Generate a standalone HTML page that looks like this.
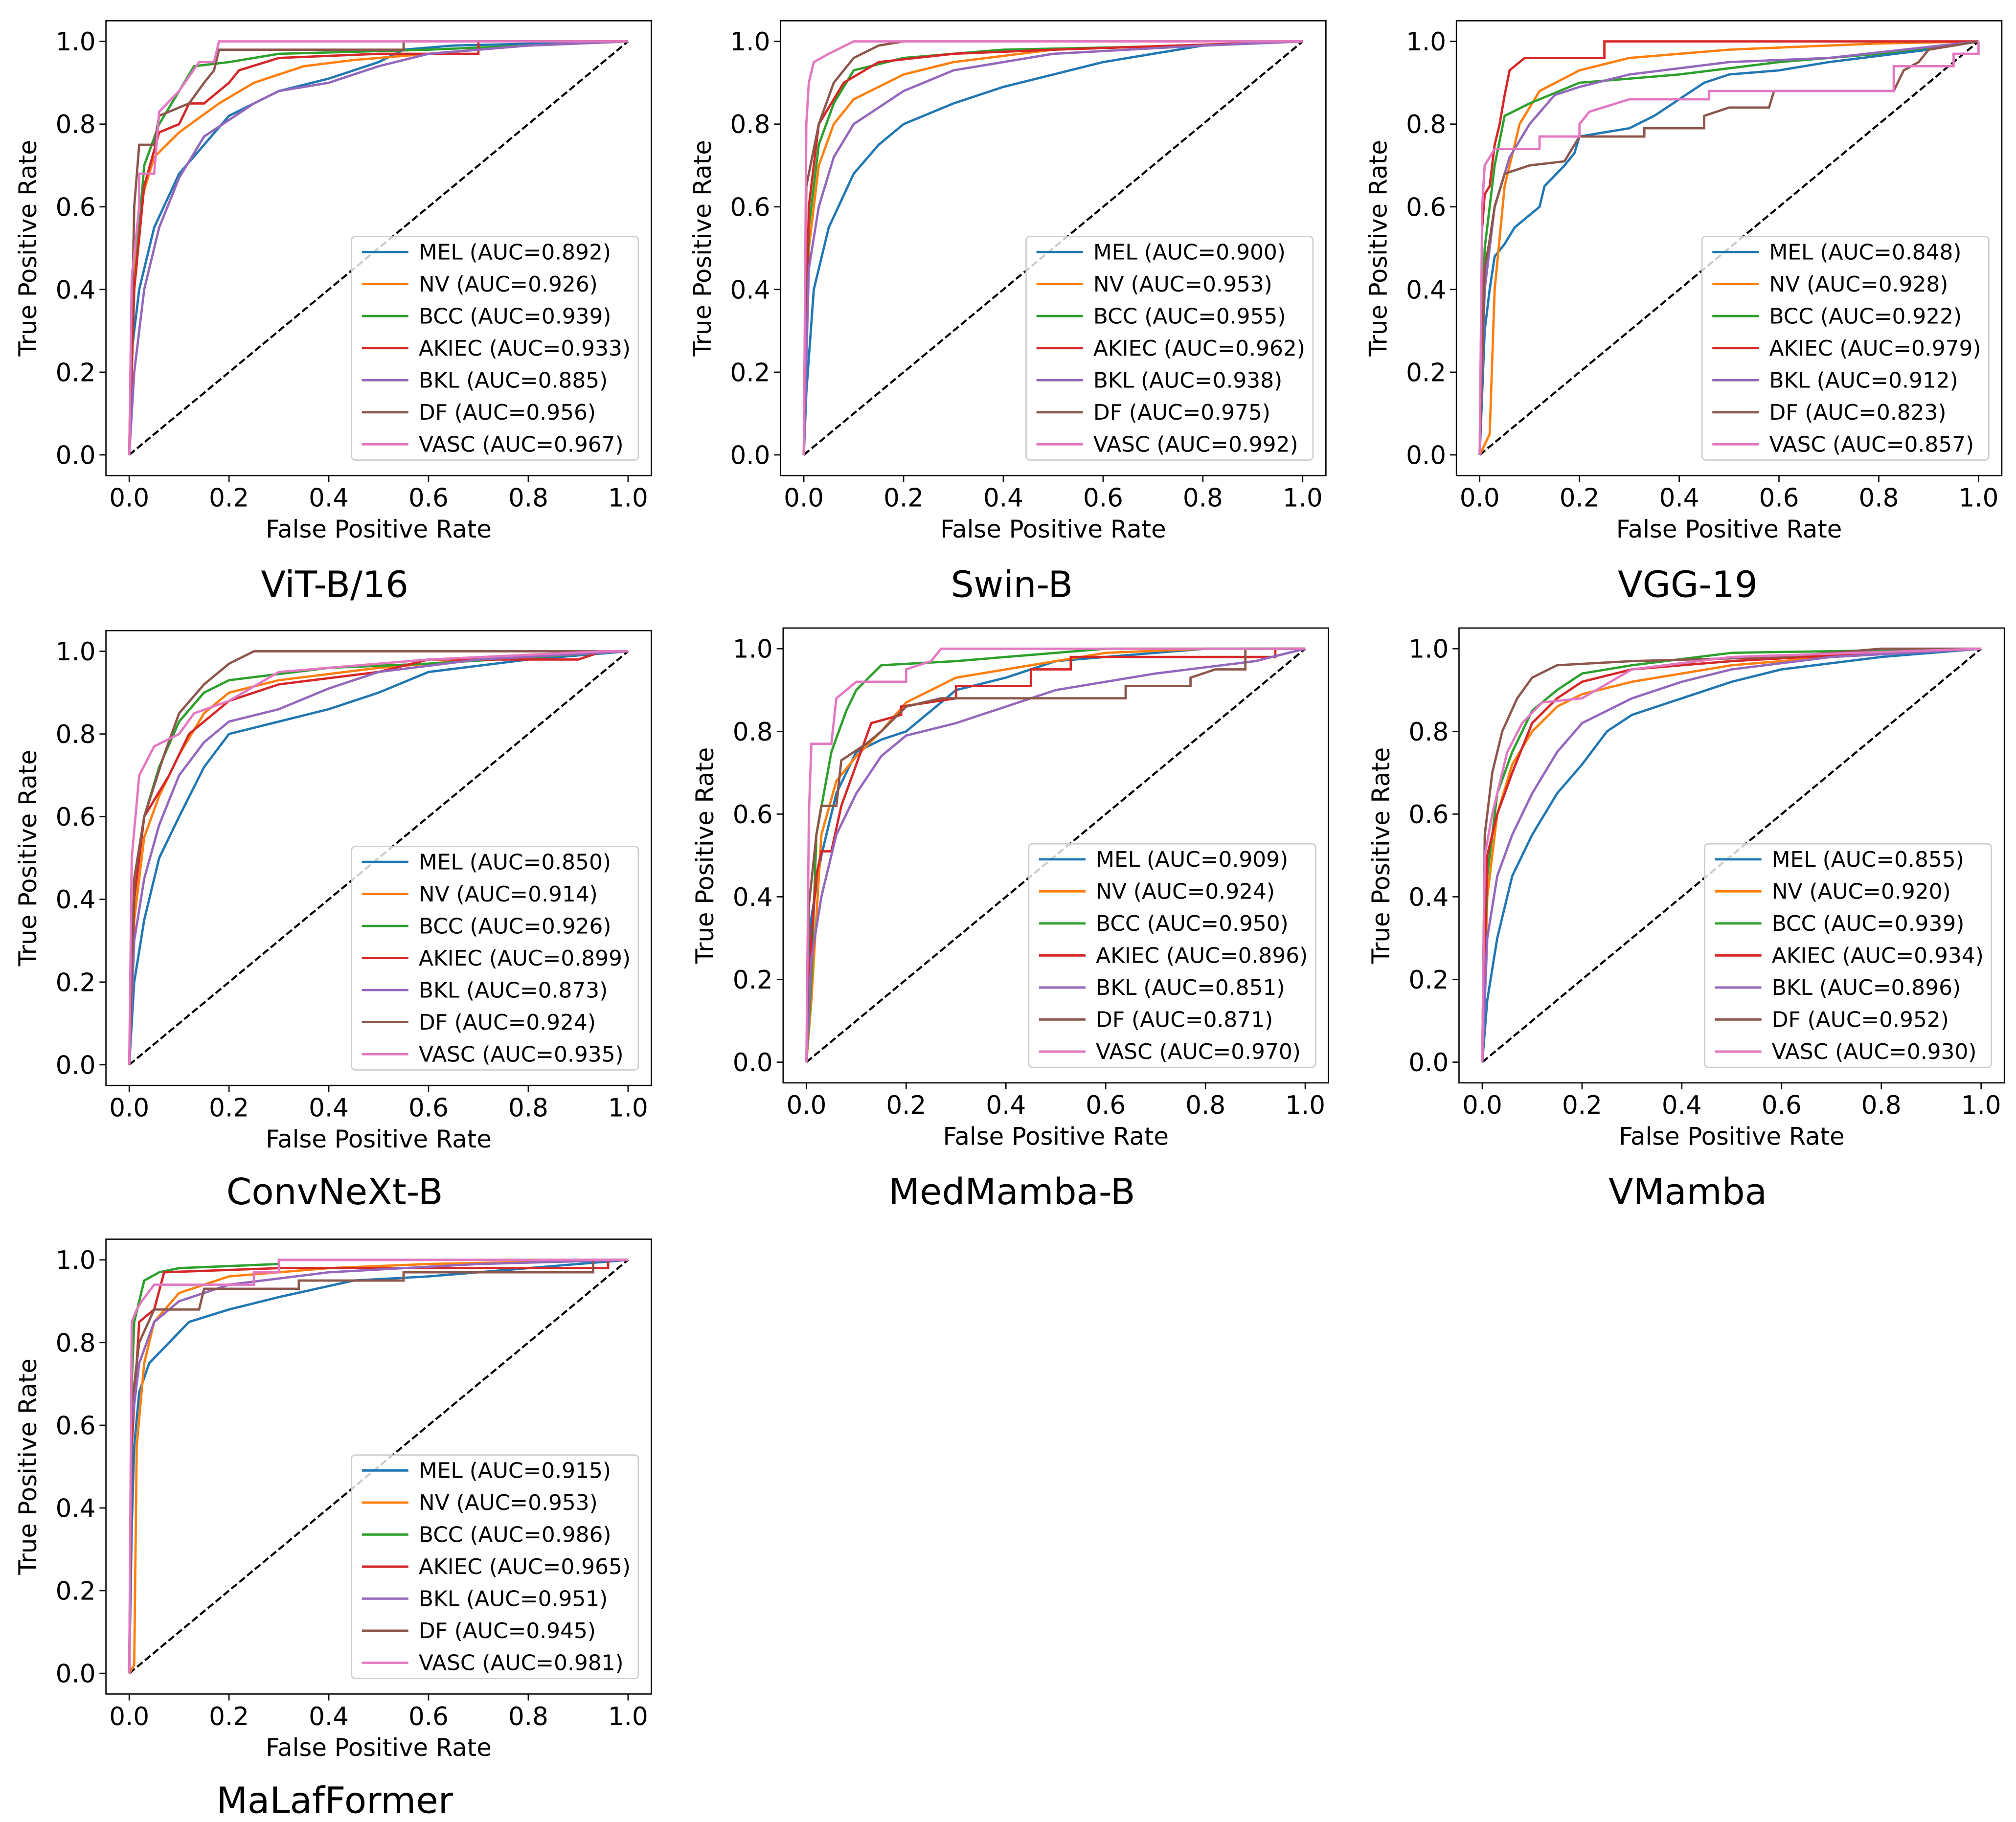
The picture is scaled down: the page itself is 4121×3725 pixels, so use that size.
<!DOCTYPE html>
<html><head><meta charset="utf-8"><style>
html,body{margin:0;padding:0;background:#fff;}
svg{display:block;}
text{font-family:"DejaVu Sans","Liberation Sans",sans-serif;fill:#000;}
</style></head><body>
<svg id="fig" xmlns="http://www.w3.org/2000/svg" width="4121" height="3725" viewBox="0 0 1560 1410"></svg>
<script>
const classNames = ["MEL","NV","BCC","AKIEC","BKL","DF","VASC"];
const colors = ["#1f77b4","#ff7f0e","#2ca02c","#d62728","#9467bd","#8c564b","#e377c2"];
const modelNames = ["ViT-B/16","Swin-B","VGG-19","ConvNeXt-B","MedMamba-B","VMamba","MaLafFormer"];
const tickValues = [0,0.2,0.4,0.6,0.8,1.0];
const tickLabels = ["0.0","0.2","0.4","0.6","0.8","1.0"];
const aucVit = ["0.892","0.926","0.939","0.933","0.885","0.956","0.967"];
const aucSwin = ["0.900","0.953","0.955","0.962","0.938","0.975","0.992"];
const aucVgg = ["0.848","0.928","0.922","0.979","0.912","0.823","0.857"];
const aucConv = ["0.850","0.914","0.926","0.899","0.873","0.924","0.935"];
const aucMed = ["0.909","0.924","0.950","0.896","0.851","0.871","0.970"];
const aucVm = ["0.855","0.920","0.939","0.934","0.896","0.952","0.930"];
const aucMal = ["0.915","0.953","0.986","0.965","0.951","0.945","0.981"];

const rocVit = [
 [[0,0],[0.005,0.25],[0.02,0.4],[0.05,0.55],[0.1,0.68],[0.15,0.75],[0.2,0.82],[0.3,0.88],[0.4,0.91],[0.5,0.95],[0.55,0.98],[0.65,0.99],[1,1]],
 [[0,0],[0.005,0.4],[0.02,0.6],[0.05,0.72],[0.1,0.78],[0.18,0.85],[0.25,0.9],[0.35,0.94],[0.45,0.955],[0.6,0.97],[0.8,0.99],[1,1]],
 [[0,0],[0.01,0.4],[0.03,0.7],[0.06,0.8],[0.1,0.88],[0.13,0.94],[0.2,0.95],[0.3,0.97],[0.6,0.98],[0.8,0.99],[1,1]],
 [[0,0],[0.01,0.4],[0.03,0.65],[0.06,0.78],[0.1,0.8],[0.12,0.85],[0.15,0.85],[0.2,0.9],[0.22,0.93],[0.3,0.96],[0.5,0.97],[0.7,0.97],[0.7,1],[1,1]],
 [[0,0],[0.01,0.2],[0.03,0.4],[0.06,0.55],[0.1,0.67],[0.15,0.77],[0.2,0.81],[0.25,0.85],[0.3,0.88],[0.4,0.9],[0.5,0.94],[0.6,0.97],[0.8,0.99],[1,1]],
 [[0,0],[0.01,0.6],[0.02,0.75],[0.05,0.75],[0.06,0.82],[0.12,0.85],[0.15,0.9],[0.17,0.93],[0.18,0.98],[0.55,0.98],[0.55,1],[1,1]],
 [[0,0],[0.005,0.43],[0.02,0.6],[0.02,0.68],[0.05,0.68],[0.06,0.83],[0.1,0.88],[0.14,0.95],[0.17,0.95],[0.18,1],[1,1]]
];
const rocSwin = [
 [[0,0],[0.005,0.15],[0.02,0.4],[0.05,0.55],[0.1,0.68],[0.15,0.75],[0.2,0.8],[0.3,0.85],[0.4,0.89],[0.5,0.92],[0.6,0.95],[0.7,0.97],[0.8,0.99],[1,1]],
 [[0,0],[0.01,0.5],[0.03,0.7],[0.06,0.8],[0.1,0.86],[0.2,0.92],[0.3,0.95],[0.5,0.98],[1,1]],
 [[0,0],[0.01,0.55],[0.03,0.75],[0.06,0.85],[0.1,0.93],[0.2,0.96],[0.4,0.98],[0.8,0.99],[1,1]],
 [[0,0],[0.01,0.6],[0.03,0.8],[0.08,0.9],[0.15,0.95],[0.3,0.97],[0.5,0.98],[1,1]],
 [[0,0],[0.01,0.45],[0.03,0.6],[0.06,0.72],[0.1,0.8],[0.2,0.88],[0.3,0.93],[0.5,0.97],[0.8,0.99],[1,1]],
 [[0,0],[0.005,0.65],[0.03,0.8],[0.06,0.9],[0.1,0.96],[0.15,0.99],[0.2,1],[1,1]],
 [[0,0],[0.005,0.8],[0.01,0.9],[0.02,0.95],[0.05,0.97],[0.1,1],[1,1]]
];
const rocVgg = [
 [[0,0],[0.01,0.3],[0.02,0.4],[0.03,0.48],[0.05,0.51],[0.07,0.55],[0.1,0.58],[0.12,0.6],[0.13,0.65],[0.17,0.7],[0.19,0.73],[0.2,0.77],[0.25,0.78],[0.3,0.79],[0.35,0.82],[0.4,0.86],[0.45,0.9],[0.5,0.92],[0.6,0.93],[0.7,0.95],[0.9,0.98],[1,1]],
 [[0,0],[0.02,0.05],[0.03,0.4],[0.05,0.65],[0.08,0.8],[0.12,0.88],[0.2,0.93],[0.3,0.96],[0.5,0.98],[0.8,0.995],[1,1]],
 [[0,0],[0.01,0.5],[0.03,0.7],[0.05,0.82],[0.1,0.85],[0.2,0.9],[0.4,0.92],[0.6,0.95],[0.8,0.97],[1,1]],
 [[0,0],[0.005,0.55],[0.01,0.63],[0.02,0.65],[0.03,0.75],[0.04,0.8],[0.05,0.87],[0.06,0.93],[0.09,0.96],[0.25,0.96],[0.25,1],[1,1]],
 [[0,0],[0.01,0.4],[0.03,0.6],[0.06,0.72],[0.1,0.8],[0.15,0.87],[0.2,0.89],[0.3,0.92],[0.5,0.95],[0.7,0.96],[1,1]],
 [[0,0],[0.01,0.45],[0.02,0.52],[0.03,0.6],[0.05,0.68],[0.1,0.7],[0.17,0.71],[0.2,0.77],[0.33,0.77],[0.33,0.79],[0.45,0.79],[0.45,0.82],[0.5,0.84],[0.58,0.84],[0.59,0.88],[0.83,0.88],[0.85,0.93],[0.88,0.95],[0.9,0.98],[1,1]],
 [[0,0],[0.005,0.6],[0.01,0.7],[0.03,0.74],[0.12,0.74],[0.12,0.77],[0.2,0.77],[0.2,0.8],[0.22,0.83],[0.3,0.86],[0.46,0.86],[0.46,0.88],[0.83,0.88],[0.83,0.94],[0.95,0.94],[0.95,0.97],[1,0.97],[1,1]]
];
const rocConv = [
 [[0,0],[0.01,0.2],[0.03,0.35],[0.06,0.5],[0.1,0.6],[0.15,0.72],[0.2,0.8],[0.3,0.83],[0.4,0.86],[0.5,0.9],[0.6,0.95],[0.8,0.98],[1,1]],
 [[0,0],[0.01,0.35],[0.03,0.55],[0.06,0.65],[0.1,0.75],[0.15,0.85],[0.2,0.9],[0.3,0.93],[0.5,0.96],[0.8,0.99],[1,1]],
 [[0,0],[0.01,0.4],[0.03,0.6],[0.06,0.72],[0.1,0.83],[0.15,0.9],[0.2,0.93],[0.4,0.96],[0.6,0.97],[1,1]],
 [[0,0],[0.01,0.4],[0.03,0.6],[0.08,0.7],[0.12,0.8],[0.2,0.88],[0.3,0.92],[0.5,0.95],[0.6,0.98],[0.9,0.98],[0.95,1],[1,1]],
 [[0,0],[0.01,0.3],[0.03,0.45],[0.06,0.58],[0.1,0.7],[0.15,0.78],[0.2,0.83],[0.3,0.86],[0.4,0.91],[0.5,0.95],[0.7,0.98],[1,1]],
 [[0,0],[0.01,0.45],[0.03,0.6],[0.07,0.75],[0.1,0.85],[0.15,0.92],[0.2,0.97],[0.25,1],[1,1]],
 [[0,0],[0.005,0.5],[0.02,0.7],[0.05,0.77],[0.1,0.8],[0.13,0.85],[0.2,0.88],[0.3,0.95],[0.6,0.98],[0.95,1],[1,1]]
];
const rocMed = [
 [[0,0],[0.01,0.35],[0.03,0.5],[0.06,0.65],[0.1,0.75],[0.15,0.78],[0.2,0.8],[0.25,0.85],[0.3,0.9],[0.4,0.93],[0.5,0.97],[0.6,0.98],[0.8,1],[1,1]],
 [[0,0],[0.01,0.15],[0.03,0.55],[0.06,0.68],[0.1,0.74],[0.15,0.8],[0.2,0.87],[0.3,0.93],[0.4,0.95],[0.5,0.97],[0.6,0.99],[0.8,1],[1,1]],
 [[0,0],[0.01,0.2],[0.02,0.55],[0.05,0.75],[0.08,0.85],[0.1,0.9],[0.15,0.96],[0.3,0.97],[0.5,0.99],[0.6,1],[1,1]],
 [[0,0],[0.01,0.3],[0.02,0.45],[0.03,0.51],[0.05,0.51],[0.07,0.62],[0.1,0.72],[0.13,0.82],[0.19,0.84],[0.19,0.86],[0.3,0.88],[0.3,0.91],[0.45,0.91],[0.45,0.95],[0.53,0.95],[0.53,0.98],[0.94,0.98],[0.94,1],[1,1]],
 [[0,0],[0.01,0.25],[0.03,0.4],[0.06,0.55],[0.1,0.65],[0.15,0.74],[0.2,0.79],[0.3,0.82],[0.4,0.86],[0.5,0.9],[0.7,0.94],[0.9,0.97],[1,1]],
 [[0,0],[0.005,0.38],[0.02,0.55],[0.03,0.62],[0.06,0.62],[0.07,0.73],[0.12,0.77],[0.15,0.8],[0.2,0.86],[0.27,0.88],[0.64,0.88],[0.64,0.91],[0.77,0.91],[0.77,0.93],[0.82,0.95],[0.88,0.95],[0.88,1],[1,1]],
 [[0,0],[0.005,0.6],[0.01,0.77],[0.05,0.77],[0.06,0.88],[0.1,0.92],[0.2,0.92],[0.2,0.95],[0.25,0.97],[0.27,1],[1,1]]
];
const rocVm = [
 [[0,0],[0.01,0.15],[0.03,0.3],[0.06,0.45],[0.1,0.55],[0.15,0.65],[0.2,0.72],[0.25,0.8],[0.3,0.84],[0.4,0.88],[0.5,0.92],[0.6,0.95],[0.8,0.98],[1,1]],
 [[0,0],[0.01,0.4],[0.03,0.6],[0.06,0.72],[0.1,0.8],[0.15,0.86],[0.2,0.89],[0.3,0.92],[0.5,0.96],[0.7,0.98],[1,1]],
 [[0,0],[0.01,0.45],[0.03,0.65],[0.06,0.75],[0.1,0.85],[0.15,0.9],[0.2,0.94],[0.3,0.96],[0.5,0.99],[1,1]],
 [[0,0],[0.01,0.5],[0.03,0.6],[0.06,0.7],[0.1,0.82],[0.15,0.88],[0.2,0.92],[0.3,0.95],[0.5,0.97],[0.8,0.99],[1,1]],
 [[0,0],[0.01,0.3],[0.03,0.45],[0.06,0.55],[0.1,0.65],[0.15,0.75],[0.2,0.82],[0.3,0.88],[0.4,0.92],[0.5,0.95],[0.7,0.98],[1,1]],
 [[0,0],[0.005,0.55],[0.02,0.7],[0.04,0.8],[0.07,0.88],[0.1,0.93],[0.15,0.96],[0.3,0.97],[0.6,0.98],[0.8,1],[1,1]],
 [[0,0],[0.005,0.5],[0.02,0.6],[0.05,0.75],[0.08,0.82],[0.12,0.87],[0.2,0.88],[0.3,0.95],[0.5,0.98],[1,1]]
];
const rocMal = [
 [[0,0],[0.005,0.35],[0.01,0.55],[0.02,0.68],[0.04,0.75],[0.08,0.8],[0.12,0.85],[0.2,0.88],[0.3,0.91],[0.45,0.95],[0.6,0.96],[0.8,0.98],[1,1]],
 [[0,0],[0.01,0.02],[0.015,0.55],[0.03,0.75],[0.05,0.85],[0.1,0.92],[0.2,0.96],[0.4,0.98],[0.6,0.99],[1,1]],
 [[0,0],[0.005,0.7],[0.01,0.85],[0.03,0.95],[0.06,0.97],[0.1,0.98],[0.3,0.99],[0.3,1],[1,1]],
 [[0,0],[0.005,0.55],[0.02,0.85],[0.05,0.88],[0.07,0.97],[0.3,0.98],[0.96,0.98],[0.96,1],[1,1]],
 [[0,0],[0.005,0.6],[0.02,0.75],[0.05,0.85],[0.1,0.9],[0.2,0.94],[0.4,0.97],[0.7,0.99],[1,1]],
 [[0,0],[0.005,0.65],[0.02,0.8],[0.05,0.88],[0.14,0.88],[0.15,0.93],[0.34,0.93],[0.34,0.95],[0.55,0.95],[0.55,0.97],[0.93,0.97],[0.93,1],[1,1]],
 [[0,0],[0.005,0.85],[0.015,0.88],[0.025,0.9],[0.05,0.94],[0.25,0.94],[0.25,0.97],[0.3,0.97],[0.3,1],[1,1]]
];
const aucAll = [aucVit,aucSwin,aucVgg,aucConv,aucMed,aucVm,aucMal];
const rocAll = [rocVit,rocSwin,rocVgg,rocConv,rocMed,rocVm,rocMal];

const layout = [[82,16,259,452],[604,16,783,452],[1127,16,1306,452],[82,488,259,922],[606,486,783,922],[1129,486,1306,922],[82,959,259,1393]];
const NS="http://www.w3.org/2000/svg";
const fig=document.getElementById('fig');
function mk(tag,attrs,parent){const e=document.createElementNS(NS,tag);for(const k in attrs)e.setAttribute(k,attrs[k]);(parent||fig).appendChild(e);return e;}
const W=422,H=352,PAD_X=18,PAD_Y=16;
layout.forEach((L,pi)=>{
  const [bx,by,tx,ty]=L;
  const g=mk('g',{});
  
  
  const sx=v=>bx+PAD_X+v*(W-2*PAD_X);
  const sy=v=>by+H-PAD_Y-v*(H-2*PAD_Y);
  const cp=mk('clipPath',{id:'c'+pi},g);mk('rect',{x:bx,y:by,width:W,height:H},cp);
  const diag=mk('line',{x1:sx(0),y1:sy(0),x2:sx(1),y2:sy(1),stroke:'#000','stroke-width':1.6,'stroke-dasharray':'5.5,2.4'},g);
  
  
  rocAll[pi].forEach((pts,ci)=>{
    const p=mk('polyline',{points:pts.map(q=>sx(q[0]).toFixed(2)+','+sy(q[1]).toFixed(2)).join(' '),fill:'none',stroke:colors[ci],'stroke-width':1.8,'stroke-linejoin':'miter','clip-path':'url(#c'+pi+')'},g);
    
    
  });
  const fr=mk('rect',{x:bx,y:by,width:W,height:H,fill:'none',stroke:'#000','stroke-width':1},g);
  
  
  tickValues.forEach((v,i)=>{
    mk('line',{x1:sx(v),y1:by+H,x2:sx(v),y2:by+H+5,stroke:'#000','stroke-width':1},g);
    const xt=mk('text',{x:sx(v),y:by+H+24,'font-size':19.5,'text-anchor':'middle'},g);xt.textContent=tickLabels[i];
    
    
    mk('line',{x1:bx-5,y1:sy(v),x2:bx,y2:sy(v),stroke:'#000','stroke-width':1},g);
    const yt=mk('text',{x:bx-8,y:sy(v)+7,'font-size':19.5,'text-anchor':'end'},g);yt.textContent=tickLabels[i];
    
    
  });
  const xl=mk('text',{x:bx+W/2,y:by+H+48,'font-size':18.8,'text-anchor':'middle'},g);xl.textContent='False Positive Rate';
  
  
  const yl=mk('text',{x:0,y:0,'font-size':18.8,'text-anchor':'middle',transform:'translate('+(bx-54)+','+(by+H/2)+') rotate(-90)'},g);yl.textContent='True Positive Rate';
  
  
  const tt=mk('text',{x:tx,y:ty+10,'font-size':28,'text-anchor':'middle'},g);tt.textContent=modelNames[pi];
  
  
  const lx=bx+W-232,ly=by+H-185;
  const lg=mk('g',{},g);
  
  
  mk('rect',{x:lx,y:ly,width:222,height:173,rx:3,fill:'#fff','fill-opacity':0.8,stroke:'#ccc','stroke-width':1},lg);
  classNames.forEach((c,ci)=>{
    const yy=ly+12+ci*24.8;
    const e=mk('g',{},lg);
    
    
    mk('line',{x1:lx+8,y1:yy,x2:lx+44,y2:yy,stroke:colors[ci],'stroke-width':1.8},e);
    const t=mk('text',{x:lx+52,y:yy+5.8,'font-size':16.6},e);t.textContent=c+' (AUC='+aucAll[pi][ci]+')';
  });
});
</script>
</body></html>
